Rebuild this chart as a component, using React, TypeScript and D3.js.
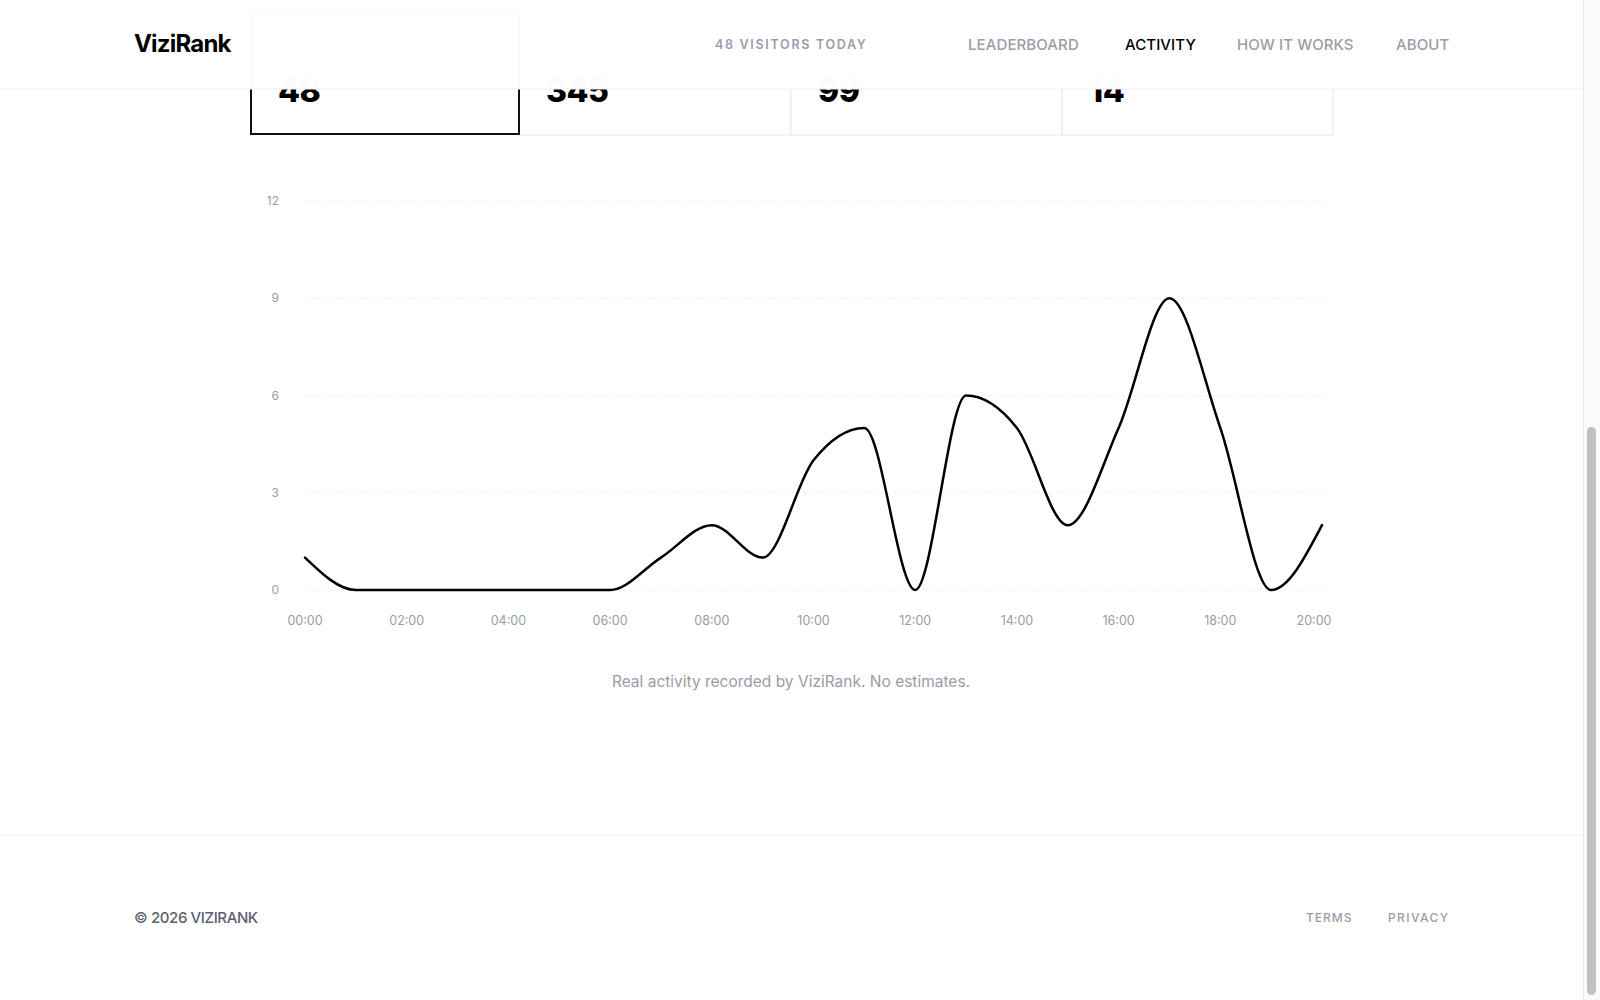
import React from "react";
import * as d3 from "d3";

const hours = ["00:00","01:00","02:00","03:00","04:00","05:00","06:00","07:00","08:00","09:00","10:00","11:00","12:00","13:00","14:00","15:00","16:00","17:00","18:00","19:00","20:00"];
const visitors = [1,0,0,0,0,0,0,1,2,1,4,5,0,6,5,2,5,9,5,0,2];
const yTicks = [0,3,6,9,12];
const xTickLabels = ["00:00","02:00","04:00","06:00","08:00","10:00","12:00","14:00","16:00","18:00","20:00"];
const statValues = ["48","345","99","14"];
const navItems = ["LEADERBOARD","ACTIVITY","HOW IT WORKS","ABOUT"];
const navX = [968,1125,1237,1396];
const activeNav = "ACTIVITY";

const FONT = "Inter, 'Noto Sans', sans-serif";

export default function App() {
  const W = 1600, H = 1000;
  const x = d3.scaleLinear().domain([0, hours.length - 1]).range([305, 1322]);
  const y = d3.scaleLinear().domain([0, 12]).range([590, 201]);
  const line = d3.line<number>()
    .x((_, i) => x(i))
    .y((d) => y(d))
    .curve(d3.curveMonotoneX);
  const path = line(visitors) || "";

  const cardEdges = [251, 519, 791, 1062, 1333];

  return (
    <div style={{ position: "fixed", left: 0, top: 0, width: W, height: H, background: "#fff" }}>
      <svg width={W} height={H} style={{ display: "block", fontFamily: FONT }}>
        <defs>
          <filter id="blur" x="-50%" y="-50%" width="200%" height="200%">
            <feGaussianBlur stdDeviation="8" />
          </filter>
        </defs>
        <rect x={0} y={0} width={W} height={H} fill="#fff" />

        {/* stat cards */}
        {cardEdges.slice(0, 4).map((cx, i) => (
          <g key={i}>
            {i > 0 && (
              <rect x={cx} y={10} width={cardEdges[i + 1] - cx} height={125} fill="#fff" stroke="#e7e7ea" strokeWidth={1} />
            )}
            <rect x={cx + 24} y={42} width={[70, 95, 150, 40][i]} height={14} fill="#6b7280" opacity={0.5} filter="url(#blur)" />
            <text x={cx + 27} y={102} fontSize={32} fontWeight={800} fill="#000" letterSpacing={-0.5}>{statValues[i]}</text>
          </g>
        ))}
        <rect x={cardEdges[0]} y={10} width={cardEdges[1] - cardEdges[0]} height={124} fill="none" stroke="#111" strokeWidth={2} />

        {/* header */}
        <rect x={0} y={0} width={1583} height={89} fill="#fff" opacity={0.985} />
        <line x1={0} x2={1583} y1={89} y2={89} stroke="#efeff1" strokeWidth={1} />
        <text x={134} y={52} fontSize={24} fontWeight={700} fill="#000" letterSpacing={-0.8}>ViziRank</text>
        <text x={715} y={49} fontSize={12.5} fontWeight={600} fill="#9a9ca8" letterSpacing={1.7}>48 VISITORS TODAY</text>
        {navItems.map((n, i) => (
          <text key={n} x={navX[i]} y={50} fontSize={15} fontWeight={500} fill={n === activeNav ? "#000" : "#9a9ca8"} letterSpacing={0.1}>{n}</text>
        ))}

        {/* grid */}
        {yTicks.map((t) => (
          <g key={t}>
            <line x1={x(0)} x2={x(20)} y1={y(t)} y2={y(t)} stroke="#eeeef0" strokeDasharray="3 3" strokeWidth={1} />
            <text x={279} y={y(t)} dy="0.35em" textAnchor="end" fontSize={12} fill="#9a9ca8">{t}</text>
          </g>
        ))}
        {xTickLabels.map((l, k) => {
          const i = hours.indexOf(l);
          const px = k === xTickLabels.length - 1 ? x(i) - 8 : x(i);
          return (
            <text key={l} x={px} y={621} dy="0.35em" textAnchor="middle" fontSize={12.5} fill="#9a9ca8">{l}</text>
          );
        })}

        <path d={path} fill="none" stroke="#000" strokeWidth={2.5} strokeLinejoin="round" strokeLinecap="round" />

        <text x={791} y={682} dy="0.35em" textAnchor="middle" fontSize={15.5} fill="#9a9ca8" letterSpacing={0}>Real activity recorded by ViziRank. No estimates.</text>

        {/* footer */}
        <line x1={0} x2={1583} y1={835} y2={835} stroke="#f0f0f2" strokeWidth={1} />
        <text x={134} y={918} dy="0.35em" fontSize={15} fontWeight={500} fill="#5b6070" letterSpacing={-0.4}>© 2026 VIZIRANK</text>
        <text x={1306} y={918} dy="0.35em" fontSize={12} fontWeight={500} fill="#9a9ca8" letterSpacing={1}>TERMS</text>
        <text x={1388} y={918} dy="0.35em" fontSize={12} fontWeight={500} fill="#9a9ca8" letterSpacing={1.4}>PRIVACY</text>

        {/* scrollbar */}
        <rect x={1583} y={0} width={17} height={H} fill="#fafafa" />
        <line x1={1583.5} x2={1583.5} y1={0} y2={H} stroke="#e8e8e8" />
        <rect x={1587} y={427} width={9} height={568} rx={4.5} fill="#c1c1c1" />
      </svg>
    </div>
  );
}
